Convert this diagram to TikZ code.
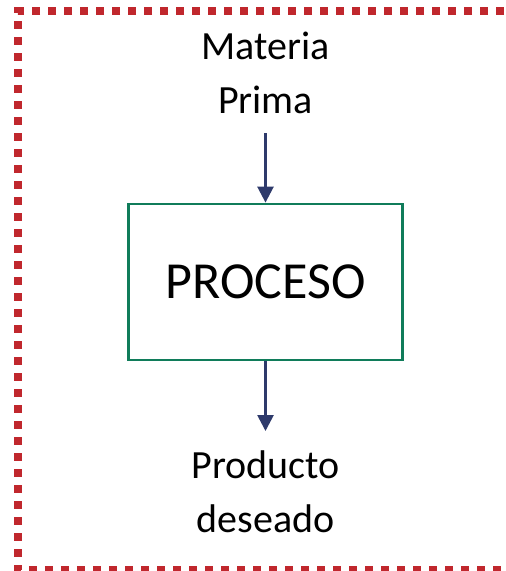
\documentclass[tikz,border=0pt]{standalone}
\usepackage{fontspec}
\setmainfont{Carlito}
\usetikzlibrary{arrows.meta,positioning}
\definecolor{frame}{RGB}{192,39,45}
\definecolor{boxgreen}{RGB}{16,124,90}
\definecolor{navy}{RGB}{46,58,107}
\tikzstyle{label}=[align=center, inner sep=0pt, font=\fontsize{40}{54}\selectfont]
\tikzstyle{procbox}=[rectangle, draw=boxgreen, line width=2.8pt, minimum width=274pt, minimum height=156pt, font=\fontsize{52}{60}\selectfont]
\tikzstyle{flow}=[draw=navy, line width=2.6pt, -{Triangle[width=16pt,length=16pt]}]

\begin{document}
\begin{tikzpicture}[x=1pt, y=-1pt]
    \useasboundingbox (0,0) rectangle (506,571);
    \clip (0,0) rectangle (506,571);
    % frame runs out past the right edge
    \draw[frame, line width=8pt, dash pattern=on 8pt off 8pt] (520,11) -- (18,11) -- (18,570) -- (520,570);

    % last line sits on the base anchor
    \node[label, anchor=base] at (265.5, 113) (mp) {Materia\\Prima};
    \node[procbox] at (265.5, 282) (proc) {PROCESO};
    \node[label, anchor=base] at (265.5, 532) (prod) {Producto\\deseado};

    \draw[flow, shorten <=20pt] (mp.south) -- (proc.north);
    \draw[flow, shorten >=19pt] (proc.south) -- (prod.north);
\end{tikzpicture}
\end{document}
